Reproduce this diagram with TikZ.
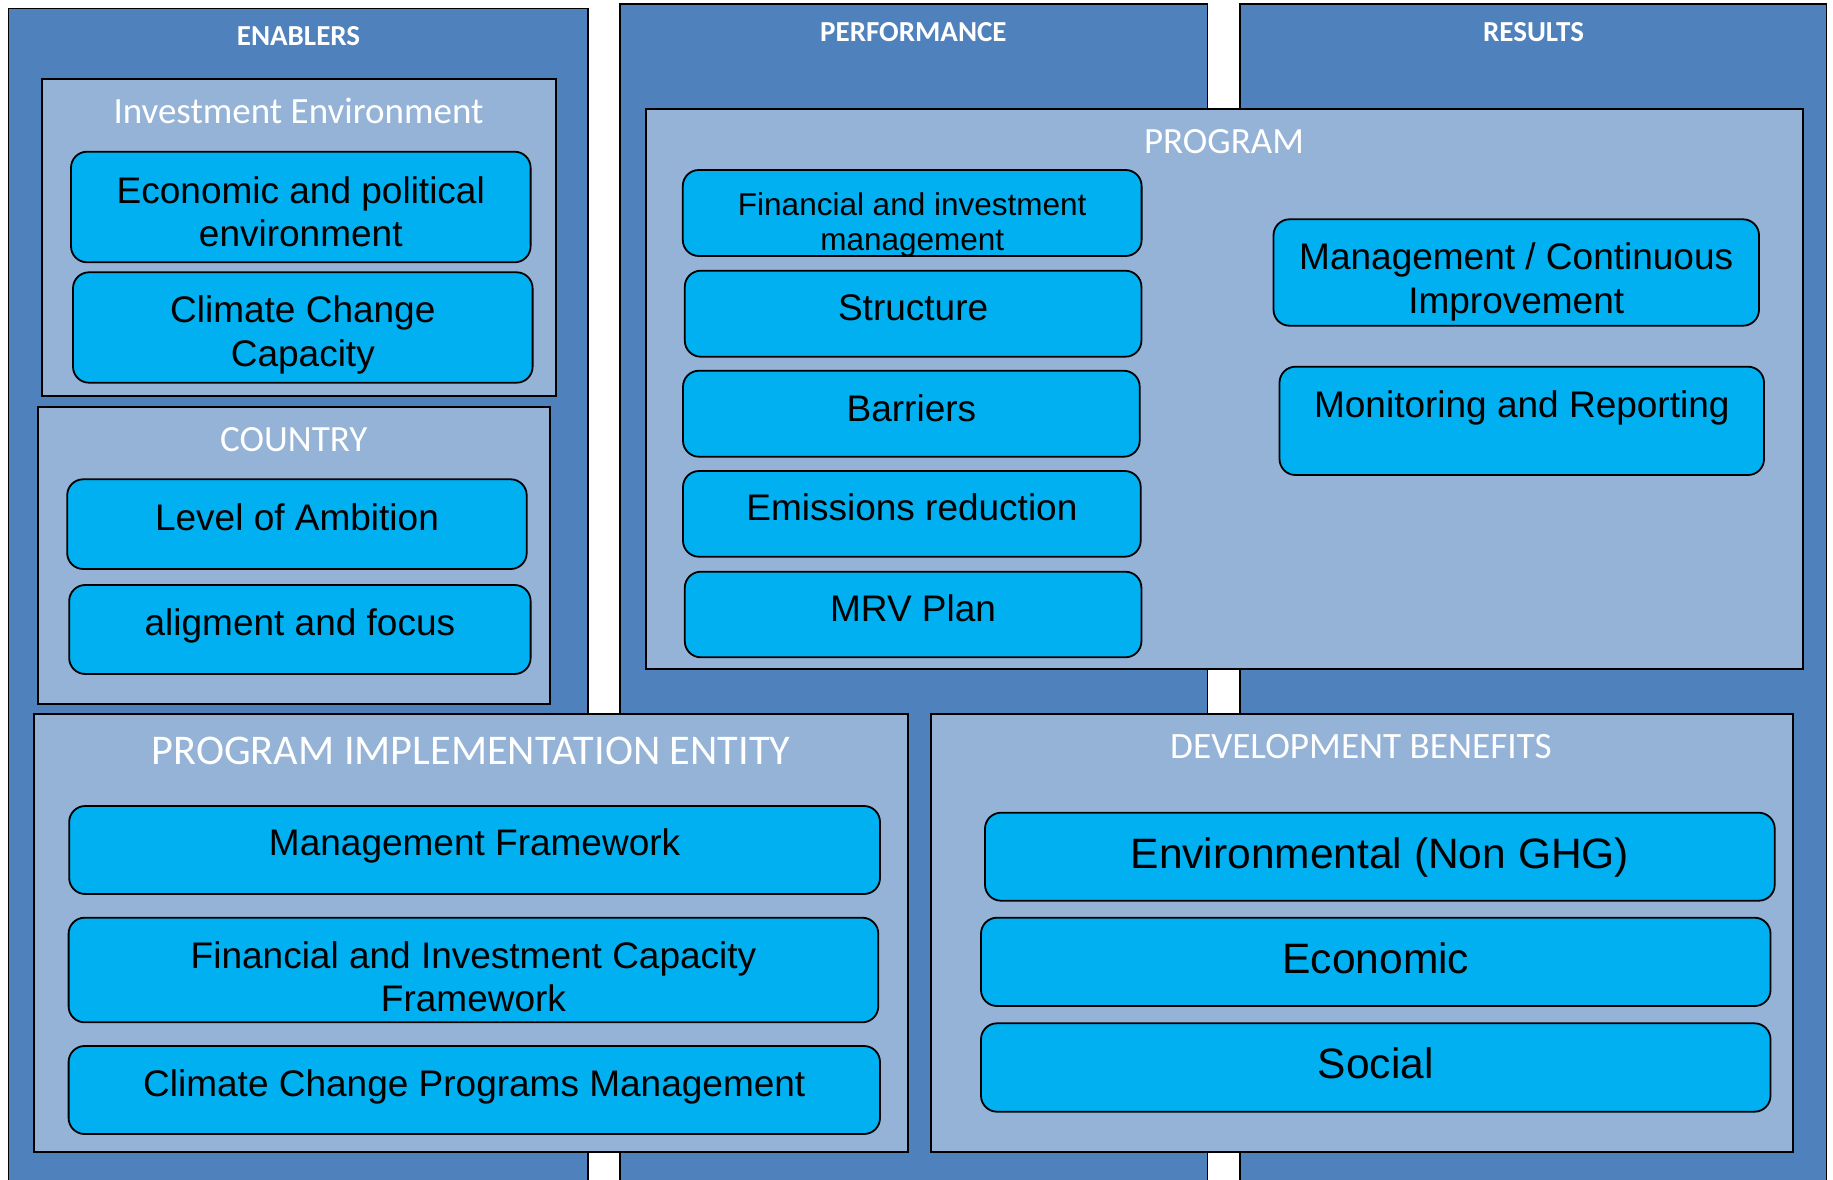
\documentclass[tikz,border=0pt]{standalone}
\usepackage{fontspec}
\usetikzlibrary{fit}
\newfontfamily\arialf{Liberation Sans}
\newfontfamily\calf{Carlito}
\definecolor{outerblue}{HTML}{4F81BD}
\definecolor{innerblue}{HTML}{95B3D7}
\definecolor{boxcyan}{HTML}{00B0F0}
\begin{document}
\begin{tikzpicture}[x=1pt,y=-1pt,
  outerbox/.style={draw=black, line width=1.5pt, fill=outerblue, inner sep=0pt, outer sep=0pt},
  panel/.style={draw=black, line width=2pt, fill=innerblue, inner sep=0pt, outer sep=0pt},
  item/.style={draw=black, line width=1.8pt, fill=boxcyan, rounded corners=16pt, inner sep=0pt, outer sep=0pt},
  coltitle/.style={text=white, inner sep=0pt, anchor=base, font=\calf\bfseries\fontsize{29}{34}\selectfont},
  paneltitle/.style={text=white, inner sep=0pt, anchor=base, font=\calf\fontsize{37}{42}\selectfont},
  itemtext/.style={text=black, inner sep=0pt, anchor=base, align=center, font=\arialf\fontsize{37}{43.5}\selectfont},
  smalltext/.style={itemtext, font=\arialf\fontsize{31.5}{35.7}\selectfont},
  bigtext/.style={itemtext, font=\arialf\fontsize{42.5}{48}\selectfont}
]
\useasboundingbox (0,0) rectangle (1833,1180);
\clip (0,0) rectangle (1833,1180);
\fill[white] (0,0) rectangle (1833,1180);

% columns
\node[outerbox, fit={(8.7,8.3) (588,1200)}] (enablers) {};
\node[outerbox, fit={(620,4) (1207.5,1200)}] (performance) {};
\node[outerbox, fit={(1240,4) (1826.5,1200)}] (results) {};
\node[coltitle] (t-enablers) at (298.5,46) {ENABLERS};
\node[coltitle] (t-performance) at (913.4,41.7) {PERFORMANCE};
\node[coltitle] (t-results) at (1533.5,41.7) {RESULTS};

% panels
\node[panel, fit={(41.5,79.3) (556,395.5)}] (invenv) {};
\node[panel, fit={(38.4,406.7) (549.8,703.5)}] (country) {};
\node[panel, fit={(646,108.7) (1802.7,668.7)}] (program) {};
\node[panel, fit={(34,713.5) (907.5,1151.7)}] (pie) {};
\node[panel, fit={(930.8,713.5) (1792.5,1151.7)}] (db) {};
\node[paneltitle] (t-invenv) at (298.5,124) {Investment Environment};
\node[paneltitle] (t-country) at (293.8,451.7) {COUNTRY};
\node[paneltitle] (t-program) at (1224,153.3) {PROGRAM};
\node[paneltitle, font=\calf\fontsize{42.3}{48}\selectfont] (t-pie) at (471,764) {PROGRAM IMPLEMENTATION ENTITY};
\node[paneltitle, font=\calf\fontsize{37.2}{42}\selectfont] (t-db) at (1361,758.3) {DEVELOPMENT BENEFITS};

% enablers items
\node[item, fit={(71,151.7) (530.6,262.3)}] (econ) {};
\node[itemtext] (t-econ) at (300.8,246.7) {Economic and political\\environment};
\node[item, fit={(73,272.3) (532.6,382.7)}] (ccc) {};
\node[itemtext] (t-ccc) at (302.8,366) {Climate Change\\Capacity};
\node[item, fit={(67.2,479.3) (526.7,569)}] (ambition) {};
\node[itemtext] (t-ambition) at (297,530) {Level of Ambition};
\node[item, fit={(69.2,585) (530.6,674)}] (align) {};
\node[itemtext] (t-align) at (299.9,635) {aligment and focus};

% program items
\node[item, fit={(682.8,170) (1141.6,256)}] (finmgmt) {};
\node[smalltext] (t-finmgmt) at (912.2,250.7) {Financial and investment\\management};
\node[item, fit={(684.8,270.7) (1141.4,356.7)}] (structure) {};
\node[itemtext] (t-structure) at (913.1,320) {Structure};
\node[item, fit={(683,370.7) (1139.7,456.7)}] (barriers) {};
\node[itemtext] (t-barriers) at (911.4,421.7) {Barriers};
\node[item, fit={(683,471) (1140.7,556.7)}] (emissions) {};
\node[itemtext] (t-emissions) at (911.9,520.7) {Emissions reduction};
\node[item, fit={(684.8,571.7) (1141.4,657.3)}] (mrv) {};
\node[itemtext] (t-mrv) at (913.1,621.7) {MRV Plan};
\node[item, fit={(1273.5,219.3) (1759,325.7)}] (mgmtci) {};
\node[itemtext] (t-mgmtci) at (1516.2,313.3) {Management / Continuous\\Improvement};
\node[item, fit={(1279.5,366.7) (1764,475)}] (monitoring) {};
\node[itemtext] (t-monitoring) at (1521.8,417.3) {Monitoring and Reporting};

% PIE items
\node[item, fit={(69.2,806) (880,894)}] (mgmtfw) {};
\node[itemtext] (t-mgmtfw) at (474.6,855) {Management Framework};
\node[item, fit={(68.6,917.7) (878.3,1022.3)}] (fincap) {};
\node[itemtext] (t-fincap) at (473.5,1011.7) {Financial and Investment Capacity\\Framework};
\node[item, fit={(68.6,1046) (880,1134)}] (ccprog) {};
\node[itemtext] (t-ccprog) at (474.3,1096) {Climate Change Programs Management};

% DB items
\node[item, fit={(985,812.7) (1774.7,900.7)}] (env) {};
\node[bigtext] (t-env) at (1379.9,868.3) {Environmental (Non GHG)};
\node[item, fit={(981,917.7) (1770.5,1006)}] (econ2) {};
\node[bigtext] (t-econ2) at (1375.8,973.3) {Economic};
\node[item, fit={(981,1023.3) (1770.5,1111.7)}] (social) {};
\node[bigtext] (t-social) at (1375.8,1078.3) {Social};
\end{tikzpicture}
\end{document}
